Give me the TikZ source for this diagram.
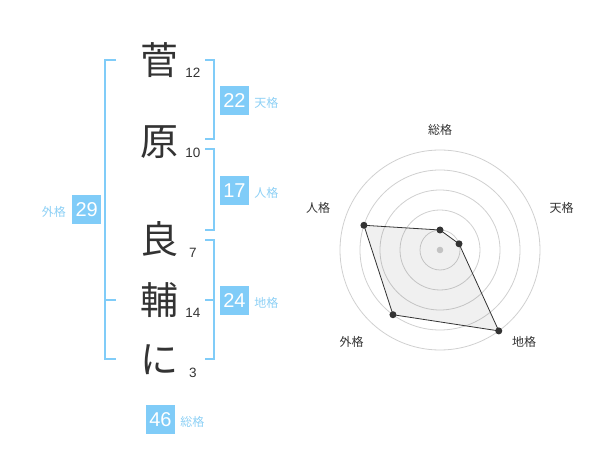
\documentclass[tikz,border=0pt]{standalone}
\usepackage{fontspec}
\setmainfont{Liberation Sans}
\newfontfamily\jpfont{Noto Sans CJK JP}
\usetikzlibrary{positioning}
\definecolor{kakublue}{HTML}{80CCF8}
\definecolor{labelblue}{HTML}{8DD0F5}
\definecolor{inkgray}{HTML}{333333}
\definecolor{ringgray}{HTML}{D0D0D0}
\begin{document}
\begin{tikzpicture}[x=1pt, y=-1pt]
	\tikzstyle{kanji}=[inner sep=0, text=inkgray, font=\jpfont\fontsize{38}{38}\selectfont]
	\tikzstyle{strokenum}=[inner sep=0, text=inkgray, font=\fontsize{13.5}{13.5}\selectfont]
	\tikzstyle{kakubox}=[fill=kakublue, text=white, minimum size=29pt, inner sep=0, font=\fontsize{20}{20}\selectfont]
	\tikzstyle{kakulabel}=[text=labelblue, inner sep=0, font=\jpfont\fontsize{12}{12}\selectfont]
	\tikzstyle{bracket}=[draw=kakublue, line width=2pt]
	\tikzstyle{ring}=[draw=ringgray, line width=0.8pt]
	\tikzstyle{axislabel}=[text=inkgray, inner sep=0, font=\jpfont\fontsize{12}{12}\selectfont]
	\newcommand\Xkanji{159}
	\newcommand\Xcount{193}
	\newcommand\Xbr{214}
	\newcommand\Xbl{105}
	\newcommand\Xbox{234.5}

	\useasboundingbox (0,0) rectangle (600,470);

	% characters and stroke counts
	\foreach \ch/\y/\n/\ny [count=\i] in {菅/60/12/72.7, 原/142/10/152.7, 良/239/7/252.7, 輔/300/14/312.7, に/360/3/372.7}
	{
		\node [kanji] at (\Xkanji,\y) (k\i) {\ch};
		\node [strokenum] at (\Xcount,\ny) (s\i) {\n};
	}

	% brackets
	\draw [bracket] (205,60) -- (\Xbr,60) -- (\Xbr,139.3) -- (205,139.3);
	\draw [bracket] (205,149.3) -- (\Xbr,149.3) -- (\Xbr,230) -- (205,230);
	\draw [bracket] (205,240) -- (\Xbr,240) -- (\Xbr,359.3) -- (205,359.3);
	\draw [bracket] (205,300) -- (\Xbr,300);
	\draw [bracket] (116,60) -- (\Xbl,60) -- (\Xbl,359.3) -- (116,359.3);
	\draw [bracket] (\Xbl,300) -- (116,300);

	% values
	\foreach \v/\lbl/\y [count=\i] in {22/天格/100.5, 17/人格/190.5, 24/地格/300.5}
	{
		\node [kakubox] at (\Xbox,\y) (b\i) {\v};
		\node [kakulabel, anchor=base west] at ([xshift=5pt]b\i.base east) (l\i) {\lbl};
	}
	\node [kakubox] at (86.7,210) (b4) {29};
	\node [kakulabel, anchor=base east] at ([xshift=-6pt]b4.base west) (l4) {外格};
	\node [kakubox] at (160.5,419.5) (b5) {46};
	\node [kakulabel, anchor=base west] at ([xshift=5pt]b5.base east) (l5) {総格};

	% radar
	\coordinate (c) at (440,250);
	\foreach \r in {20,40,...,100}
		\draw [ring] (c) circle (\r);
	\fill [ringgray] (c) circle (3.3);
	\foreach \ang/\val/\lbl/\lx/\ly [count=\i] in {-90/20/総格/440/130, -18/20/天格/561.7/208, 54/100/地格/524/341.7, 126/80/外格/351.7/341.7, 198/80/人格/318/208}
	{
		\coordinate (p\i) at ([shift={(\ang:\val)}]c);
		\node [axislabel] at (\lx,\ly) (a\i) {\lbl};
	}
	\draw [draw=inkgray, fill=black, fill opacity=0.06, line width=0.8pt] (p1) -- (p2) -- (p3) -- (p4) -- (p5) -- cycle;
	\foreach \i in {1,...,5}
		\fill [inkgray] (p\i) circle (3.5);

\end{tikzpicture}
\end{document}
